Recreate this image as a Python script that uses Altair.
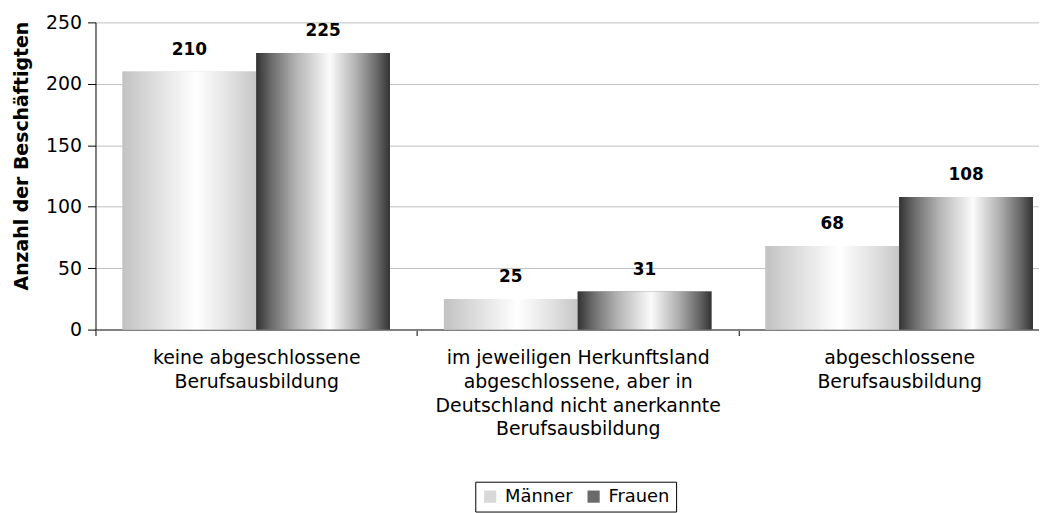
import altair as alt
import pandas as pd

kategorien = [
    "keine abgeschlossene|Berufsausbildung",
    "im jeweiligen Herkunftsland|abgeschlossene, aber in|Deutschland nicht anerkannte|Berufsausbildung",
    "abgeschlossene|Berufsausbildung",
]
geschlechter = ["Männer", "Frauen"]
maenner = [210, 25, 68]
frauen = [225, 31, 108]
y_ticks = [0, 50, 100, 150, 200, 250]

rows = []
for k, m, f in zip(kategorien, maenner, frauen):
    rows.append({"Kategorie": k, "Geschlecht": "Männer", "Anzahl": m})
    rows.append({"Kategorie": k, "Geschlecht": "Frauen", "Anzahl": f})
df = pd.DataFrame(rows)

FONT = "DejaVu Sans"

x_enc = alt.X(
    "Kategorie:N",
    sort=kategorien,
    scale=alt.Scale(range=[0, 970], paddingInner=0, paddingOuter=0),
    axis=alt.Axis(
        title=None,
        labelExpr="split(datum.label, '|')",
        labelAngle=0,
        labelLineHeight=24,
        labelFont=FONT,
        labelFontSize=19,
        labelColor="black",
        labelPadding=13,
        labelLimit=1000,
        tickBand="extent",
        tickSize=6,
        tickColor="black",
        domainColor="#808080",
        domainWidth=2,
        grid=False,
        labelOverlap=False,
    ),
)
xoff_enc = alt.XOffset("Geschlecht:N", sort=geschlechter,
                       scale=alt.Scale(domain=geschlechter, paddingInner=0, paddingOuter=0.2015))
y_enc = alt.Y(
    "Anzahl:Q",
    scale=alt.Scale(domain=[0, 250], nice=False),
    axis=alt.Axis(
        title="Anzahl der Beschäftigten",
        titleFont=FONT,
        titleFontSize=19,
        titleFontWeight="bold",
        titleColor="black",
        titleAngle=-90,
        titleAlign="center",
        titleBaseline="middle",
        titleX=-74,
        titleY=134,
        values=y_ticks,
        labelFont=FONT,
        labelFontSize=19,
        labelColor="black",
        labelPadding=6,
        tickSize=8,
        tickColor="black",
        domainColor="black",
        gridColor="#c0c0c0",
        gridWidth=1,
    ),
)

base = alt.Chart(df)

solid = base.mark_bar().encode(
    x=x_enc,
    xOffset=xoff_enc,
    y=y_enc,
    color=alt.Color(
        "Geschlecht:N",
        sort=geschlechter,
        scale=alt.Scale(domain=geschlechter, range=["#d8d8d8", "#6a6a6a"]),
        legend=alt.Legend(
            title=None,
            orient="none",
            legendX=382,
            legendY=462,
            direction="horizontal",
            strokeColor="black",
            padding=6,
            labelFont=FONT,
            labelFontSize=18,
            labelColor="black",
            symbolType="square",
            symbolSize=150,
            symbolStrokeWidth=0,
            columnPadding=12,
            labelOffset=6,
        ),
    ),
)

grad_m = alt.LinearGradient(
    gradient="linear", x1=0, x2=1, y1=0, y2=0,
    stops=[
        alt.GradientStop(offset=0, color="#c2c2c2"),
        alt.GradientStop(offset=0.3, color="#e4e4e4"),
        alt.GradientStop(offset=0.55, color="#ffffff"),
        alt.GradientStop(offset=0.8, color="#e2e2e2"),
        alt.GradientStop(offset=1, color="#c6c6c6"),
    ],
)
grad_f = alt.LinearGradient(
    gradient="linear", x1=0, x2=1, y1=0, y2=0,
    stops=[
        alt.GradientStop(offset=0, color="#333333"),
        alt.GradientStop(offset=0.12, color="#6e6e6e"),
        alt.GradientStop(offset=0.3, color="#b4b4b4"),
        alt.GradientStop(offset=0.55, color="#fbfbfb"),
        alt.GradientStop(offset=0.75, color="#b0b0b0"),
        alt.GradientStop(offset=0.9, color="#6a6a6a"),
        alt.GradientStop(offset=1, color="#333333"),
    ],
)

bars_m = base.transform_filter(alt.datum.Geschlecht == "Männer").mark_bar(fill=grad_m).encode(
    x=x_enc, xOffset=xoff_enc, y=y_enc
)
bars_f = base.transform_filter(alt.datum.Geschlecht == "Frauen").mark_bar(fill=grad_f).encode(
    x=x_enc, xOffset=xoff_enc, y=y_enc
)

labels = base.mark_text(
    font=FONT, fontSize=17, fontWeight="bold", color="black",
    baseline="alphabetic", dy=-17,
).encode(x=x_enc, xOffset=xoff_enc, y=y_enc, text=alt.Text("Anzahl:Q"))

chart = alt.layer(solid, bars_m, bars_f, labels).properties(
    width=949,
    height=309,
    autosize=alt.AutoSizeParams(type="none"),
    padding={"left": 88, "top": 13, "right": 0, "bottom": 183},
    background="white",
).configure_view(stroke=None)

chart.save("out.html", embed_options={"renderer": "svg", "actions": False})
